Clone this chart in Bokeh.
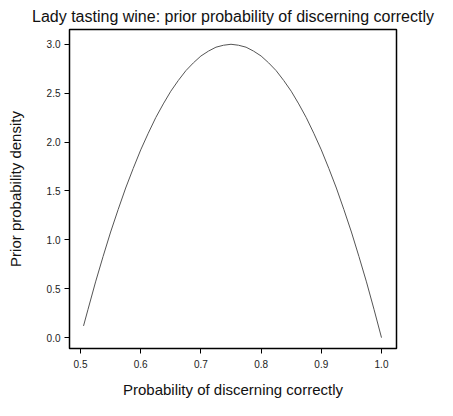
from bokeh.plotting import figure
from bokeh.models import Range1d, FixedTicker
from bokeh.embed import file_html
from bokeh.resources import INLINE

# Values
prob = [0.505, 0.5125, 0.525, 0.5375, 0.55, 0.5625, 0.575, 0.5875, 0.6, 0.6125,
        0.625, 0.6375, 0.65, 0.6625, 0.675, 0.6875, 0.7, 0.7125, 0.725, 0.7375,
        0.75, 0.7625, 0.775, 0.7875, 0.8, 0.8125, 0.825, 0.8375, 0.85, 0.8625,
        0.875, 0.8875, 0.9, 0.9125, 0.925, 0.9375, 0.95, 0.9625, 0.975, 0.9875, 1.0]
density = [0.12, 0.29, 0.57, 0.83, 1.08, 1.31, 1.53, 1.73, 1.92, 2.09,
           2.25, 2.39, 2.52, 2.63, 2.73, 2.81, 2.88, 2.93, 2.97, 2.99,
           3.0, 2.99, 2.97, 2.93, 2.88, 2.81, 2.73, 2.63, 2.52, 2.39,
           2.25, 2.09, 1.92, 1.73, 1.53, 1.31, 1.08, 0.83, 0.57, 0.29, 0.0]
x_ticks = [0.5, 0.6, 0.7, 0.8, 0.9, 1.0]
y_ticks = [0.0, 0.5, 1.0, 1.5, 2.0, 2.5, 3.0]

FONT = "Liberation Sans"

p = figure(width=437, height=400, output_backend="svg", toolbar_location=None,
           x_range=Range1d(0.4817, 1.0249), y_range=Range1d(-0.111, 3.151),
           min_border_left=69, min_border_right=41, min_border_top=26,
           min_border_bottom=50,
           title="Lady tasting wine: prior probability of discerning correctly")

p.line(prob, density, line_color="#555555", line_width=1.0)

p.title.text_font = FONT
p.title.text_font_size = "16px"
p.title.text_font_style = "normal"
p.title.align = "center"
p.title.text_color = "#111111"
p.title.offset = 4

p.outline_line_color = "black"
p.outline_line_width = 1.5
p.grid.visible = False

p.xaxis.axis_label = "Probability of discerning correctly"
p.yaxis.axis_label = "Prior probability density"
p.xaxis.ticker = FixedTicker(ticks=x_ticks)
p.yaxis.ticker = FixedTicker(ticks=y_ticks)
p.xaxis.major_label_overrides = {t: f"{t:.1f}" for t in x_ticks}
p.yaxis.major_label_overrides = {t: f"{t:.1f}" for t in y_ticks}

for ax in (p.xaxis, p.yaxis):
    ax.axis_label_text_font = FONT
    ax.axis_label_text_font_size = "15px"
    ax.axis_label_text_font_style = "normal"
    ax.axis_label_text_color = "#111111"
    ax.major_label_text_font = FONT
    ax.major_label_text_font_size = "10px"
    ax.major_label_text_color = "#222222"
    ax.major_tick_in = 0
    ax.major_tick_out = 5
    ax.minor_tick_in = 0
    ax.minor_tick_out = 0
    ax.axis_line_color = None
    ax.major_tick_line_color = "black"

p.xaxis.major_label_standoff = 6
p.xaxis.axis_label_standoff = 10
p.yaxis.major_label_standoff = 4
p.yaxis.axis_label_standoff = 20

open("out.html", "w").write(file_html(p, INLINE))
